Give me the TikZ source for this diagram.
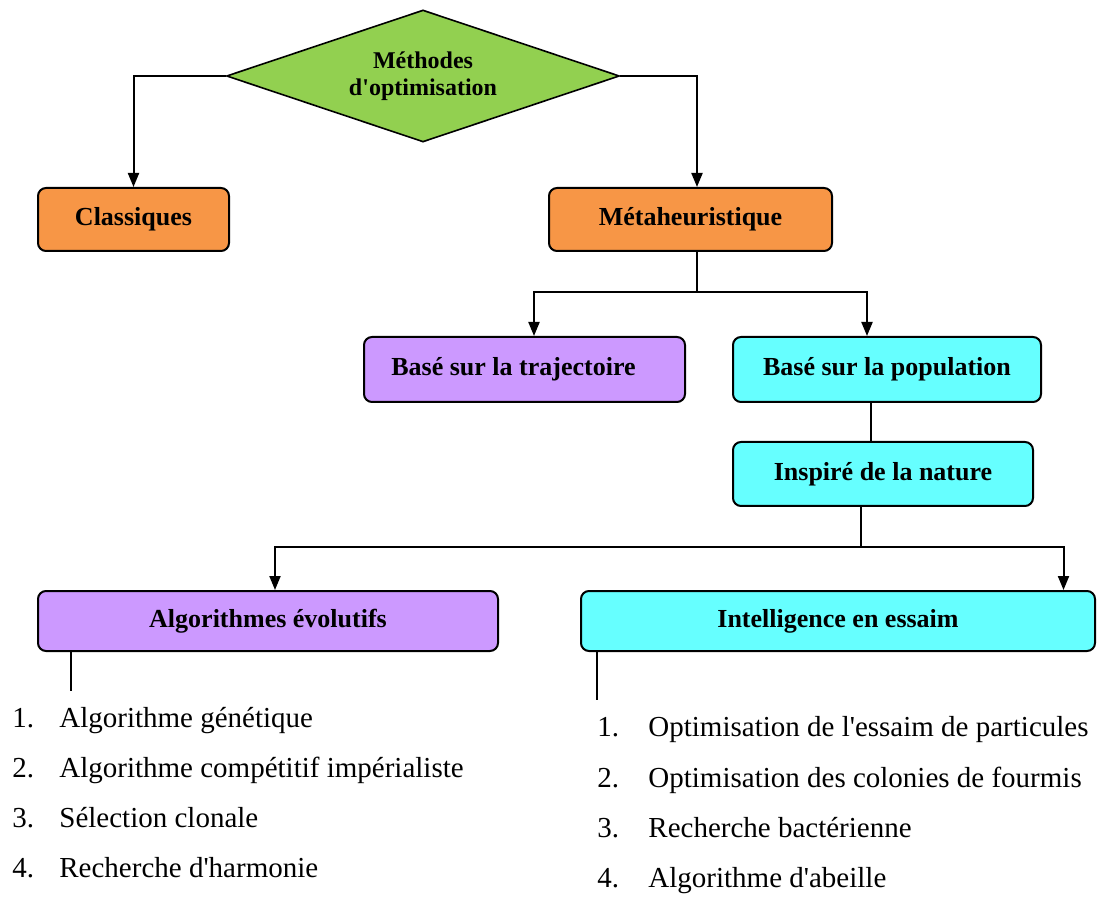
\documentclass[tikz,border=0pt]{standalone}
\usepackage{fontspec}
\setmainfont{Liberation Serif}
\usepackage{xcolor}
\usepackage{tikz}
\usetikzlibrary{shapes,arrows,positioning,calc,arrows.meta}

\definecolor{vertlosange}{HTML}{92D050}
\definecolor{orangeboite}{HTML}{F79646}
\definecolor{mauveboite}{HTML}{CC99FF}
\definecolor{cyanboite}{HTML}{66FFFF}

\begin{document}
\begin{tikzpicture}[x=0.5pt,y=-0.5pt,
    boite/.style={draw, line width=1pt, rounded corners=4pt, inner sep=0pt,
      font=\fontsize{13}{15}\selectfont\bfseries},
    fleche/.style={-{Triangle[length=7pt,width=5.5pt]}, line width=1pt},
    mince/.style={line width=0.6pt},
    liste/.style={anchor=base west, inner sep=0pt, font=\fontsize{14.5}{17}\selectfont}]
        \useasboundingbox (0,0) rectangle (1097,897);
        % racine
        \node[diamond, aspect=3, draw, fill=vertlosange, line width=0.8pt, inner sep=0pt,
          minimum width=196.5pt, minimum height=66pt, align=center,
          font=\fontsize{12}{13.5}\selectfont\bfseries] (meth) at (423,76) {Méthodes\\d\textquotesingle optimisation};
        \node[boite, fill=orangeboite, minimum width=95.5pt, minimum height=31.5pt] (classiq) at (133.5,219.5) {Classiques};
        \node[boite, fill=orangeboite, minimum width=141.5pt, minimum height=31.5pt] (meta) at (690.5,219.5) {Métaheuristique};
        \node[boite, fill=mauveboite, minimum width=160.5pt, minimum height=32.5pt] (traj) at (524.5,369.5) {Basé sur la trajectoire\hspace*{11pt}};
        \node[boite, fill=cyanboite, minimum width=154pt, minimum height=32.5pt] (popu) at (887,369.5) {Basé sur la population};
        \node[boite, fill=cyanboite, minimum width=150pt, minimum height=32pt] (nature) at (883,474) {Inspiré de la nature};
        \node[boite, fill=mauveboite, minimum width=230pt, minimum height=30pt] (evol) at (268,621) {Algorithmes évolutifs};
        \node[boite, fill=cyanboite, minimum width=257pt, minimum height=30pt] (essaim) at (838,621) {Intelligence en essaim};

        % liaisons
        \draw[fleche] (meth.west) -| (classiq.north);
        \draw[fleche] (meth.east) -| ([xshift=3.25pt]meta.north);
        \coordinate (split1) at (697,292);
        \draw[line width=1pt] ([xshift=3.25pt]meta.south) -- (split1);
        \draw[fleche] (split1) -| ([xshift=4.75pt]traj.north);
        \draw[fleche] (split1) -| ([xshift=-10pt]popu.north);
        \draw[mince] ([xshift=-8pt]popu.south) -- ([xshift=-8pt]popu.south |- nature.north);
        \coordinate (split2) at (861,547);
        \draw[mince] ([xshift=-11pt]nature.south) -- (split2);
        \draw[fleche] (split2) -| ([xshift=3.5pt]evol.north);
        \draw[fleche] (split2) -| ([xshift=112.75pt]essaim.north);

        % listes
        \coordinate (finevol) at (71,691);
        \coordinate (finessaim) at (597,700);
        \draw[mince] (evol.south -| finevol) -- (finevol);
        \draw[mince] (essaim.south -| finessaim) -- (finessaim);
        \foreach \n/\y/\t in {1/727/Algorithme génétique,
                              2/777/Algorithme compétitif impérialiste,
                              3/827/Sélection clonale,
                              4/877/Recherche d\textquotesingle harmonie} {
            \node[liste] (evonum\n) at (12,\y) {\n.};
            \node[liste] (evo\n) at (59,\y) {\t};
        }
        \foreach \n/\y/\t in {1/736/Optimisation de l\textquotesingle essaim de particules,
                              2/787/Optimisation des colonies de fourmis,
                              3/837/Recherche bactérienne,
                              4/887/Algorithme d\textquotesingle abeille} {
            \node[liste] (essnum\n) at (597,\y) {\n.};
            \node[liste] (ess\n) at (648,\y) {\t};
        }
    \end{tikzpicture}
\end{document}
